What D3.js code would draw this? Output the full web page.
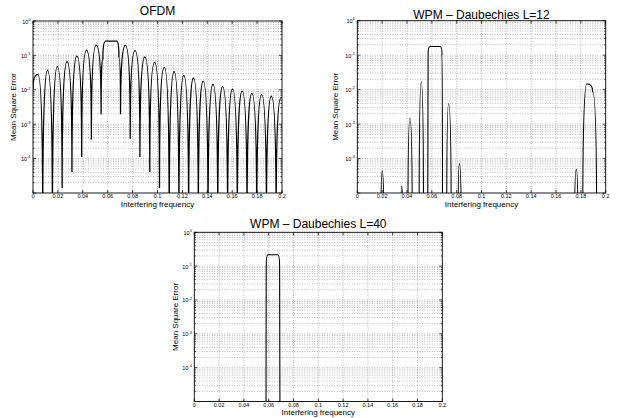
<!DOCTYPE html>
<html>
<head>
<meta charset="utf-8">
<script src="https://d3js.org/d3.v7.min.js"></script>
<style>
  body { margin: 0; background: #fff; }
  text { font-family: "Liberation Sans", Arial, sans-serif; fill: #000; }
  .grid line { stroke: #8c8c8c; stroke-width: 0.6; stroke-dasharray: 1,1.5; }
  .frame { fill: none; stroke: #000; stroke-width: 0.9; }
  .tick { stroke: #000; stroke-width: 0.7; }
  .mse { fill: none; stroke: #000; }
</style>
</head>
<body>
<svg width="627" height="418"></svg>
<script>
// axis ticks
var xTicks = [0, 0.02, 0.04, 0.06, 0.08, 0.1, 0.12, 0.14, 0.16, 0.18, 0.2];
var xTickLabels = ["0", "0.02", "0.04", "0.06", "0.08", "0.1", "0.12", "0.14", "0.16", "0.18", "0.2"];
var yDecades = [0, -1, -2, -3, -4];
var yDomain = [1e-5, 1];

// OFDM: alternating nulls / lobe peaks (1e-6 = below the axis)
var ofdmFreq = [0, 0.0039, 0.0078, 0.0117, 0.0156, 0.0195, 0.0234, 0.0273, 0.0313, 0.0352,
  0.0391, 0.0430, 0.0469, 0.0508, 0.0547, 0.0561, 0.0585, 0.0672, 0.0690, 0.0703,
  0.0742, 0.0781, 0.0820, 0.0859, 0.0898, 0.0938, 0.0977, 0.1016, 0.1055, 0.1094,
  0.1133, 0.1172, 0.1211, 0.1250, 0.1289, 0.1328, 0.1367, 0.1406, 0.1445, 0.1484,
  0.1523, 0.1563, 0.1602, 0.1641, 0.1680, 0.1719, 0.1758, 0.1797, 0.1836, 0.1875,
  0.1914, 0.1953, 0.1993, 0.2];
var ofdmMse = [1.05e-2, 2.8e-2, 1e-6, 3.7e-2, 1e-6, 4.7e-2, 1.4e-5, 6.6e-2, 4.1e-5, 9.5e-2,
  1.12e-4, 1.41e-1, 3.6e-4, 2.0e-1, 1.95e-3, 8e-2, 0.26, 0.26, 9e-2, 1.95e-3,
  1.95e-1, 3.8e-4, 1.38e-1, 1.12e-4, 9.1e-2, 4.1e-5, 6.3e-2, 1.4e-5, 4.5e-2, 1e-6,
  3.4e-2, 1e-6, 2.6e-2, 1e-6, 2.2e-2, 1e-6, 1.78e-2, 1e-6, 1.45e-2, 1e-6,
  1.23e-2, 1e-6, 1.07e-2, 1e-6, 9.1e-3, 1e-6, 7.9e-3, 1e-6, 7.2e-3, 1e-6,
  6.5e-3, 1e-6, 5.9e-3, 5.85e-3];

// WPM, Daubechies L=12
var l12Freq = [0, 0.0190, 0.0201, 0.0213, 0.0350, 0.0358, 0.0366, 0.0408, 0.0424, 0.0442,
  0.0498, 0.0515, 0.0533, 0.0567, 0.0570, 0.0585, 0.0667, 0.0682, 0.0686,
  0.0720, 0.0735, 0.0756, 0.0812, 0.0822, 0.0836, 0.1750, 0.1763, 0.1776,
  0.1815, 0.1848, 0.1895, 0.1927, 0.2];
var l12Mse = [1e-6, 1e-6, 4.4e-5, 1e-6, 1e-6, 1.6e-5, 1e-6, 1e-6, 1.5e-3, 1e-6,
  1e-6, 1.7e-2, 1e-6, 1e-6, 1e-1, 0.178, 0.178, 1e-1, 1e-6,
  1e-6, 3.9e-3, 1e-6, 1e-6, 7.1e-5, 1e-6, 1e-6, 4.9e-5, 1e-6,
  1e-6, 1.48e-2, 8.7e-3, 1e-6, 1e-6];

// WPM, Daubechies L=40
var l40Freq = [0, 0.0578, 0.0580, 0.0594, 0.0673, 0.0688, 0.0691, 0.2];
var l40Mse = [1e-6, 1e-6, 1e-1, 0.218, 0.218, 1e-1, 1e-6, 1e-6];

var panels = [
  {title: "OFDM", freq: ofdmFreq, mse: ofdmMse, left: 33, right: 282, top: 21, bottom: 193,
   titleY: 15, labelX: 16, lw: 1.3},
  {title: "WPM \u2013 Daubechies L=12", freq: l12Freq, mse: l12Mse, left: 357.3, right: 605.7, top: 20.7, bottom: 193,
   titleY: 19.3, labelX: 338, lw: 1.1},
  {title: "WPM \u2013 Daubechies L=40", freq: l40Freq, mse: l40Mse, left: 194.3, right: 442.3, top: 232.3, bottom: 401.5,
   titleY: 228.3, labelX: 178, lw: 1.1}
];

// lobe-shaped segments: vertical at the low end, flat at the high end
function Lobe(context) { this._context = context; }
Lobe.prototype = {
  areaStart: function() {}, areaEnd: function() {},
  lineStart: function() { this._point = 0; },
  lineEnd: function() {},
  point: function(x, y) {
    x = +x; y = +y;
    if (!this._point) { this._point = 1; this._context.moveTo(x, y); }
    else if (y < this._y) this._context.quadraticCurveTo(this._x, y, x, y);
    else this._context.quadraticCurveTo(x, this._y, x, y);
    this._x = x; this._y = y;
  }
};
function curveLobe(context) { return new Lobe(context); }

var svg = d3.select("svg");
var minor = [];
for (var k = -5; k < 0; k++) for (var m = 2; m <= 9; m++) minor.push(m * Math.pow(10, k));
var major = yDecades.map(function(e) { return Math.pow(10, e); }).concat([1e-5]);

panels.forEach(function(p, i) {
  var x = d3.scaleLinear().domain([0, 0.2]).range([p.left, p.right]);
  var y = d3.scaleLog().domain(yDomain).range([p.bottom, p.top]);
  var g = svg.append("g");

  var grid = g.append("g").attr("class", "grid");
  grid.selectAll(".gx").data(xTicks.slice(1, -1)).enter().append("line")
      .attr("x1", x).attr("x2", x).attr("y1", p.top).attr("y2", p.bottom);
  grid.selectAll(".gy").data(major.concat(minor).filter(function(v) { return v > 1e-5 && v < 1; }))
    .enter().append("line")
      .attr("x1", p.left).attr("x2", p.right).attr("y1", y).attr("y2", y);

  g.append("clipPath").attr("id", "clip" + i).append("rect")
      .attr("x", p.left).attr("y", p.top).attr("width", p.right - p.left).attr("height", p.bottom - p.top);

  var line = d3.line()
      .x(function(d) { return x(d[0]); })
      .y(function(d) { return y(d[1]); })
      .curve(curveLobe);

  g.append("path")
      .datum(d3.zip(p.freq, p.mse))
      .attr("class", "mse")
      .attr("clip-path", "url(#clip" + i + ")")
      .attr("stroke-width", p.lw)
      .attr("d", line);

  // ticks, inside on all four sides
  var t = g.append("g");
  xTicks.forEach(function(v) {
    t.append("line").attr("class", "tick").attr("x1", x(v)).attr("x2", x(v)).attr("y1", p.bottom).attr("y2", p.bottom - 3);
    t.append("line").attr("class", "tick").attr("x1", x(v)).attr("x2", x(v)).attr("y1", p.top).attr("y2", p.top + 3);
  });
  major.forEach(function(v) {
    t.append("line").attr("class", "tick").attr("x1", p.left).attr("x2", p.left + 3).attr("y1", y(v)).attr("y2", y(v));
    t.append("line").attr("class", "tick").attr("x1", p.right).attr("x2", p.right - 3).attr("y1", y(v)).attr("y2", y(v));
  });
  minor.forEach(function(v) {
    t.append("line").attr("class", "tick").attr("x1", p.left).attr("x2", p.left + 1.5).attr("y1", y(v)).attr("y2", y(v));
    t.append("line").attr("class", "tick").attr("x1", p.right).attr("x2", p.right - 1.5).attr("y1", y(v)).attr("y2", y(v));
  });

  g.append("rect").attr("class", "frame")
      .attr("x", p.left).attr("y", p.top).attr("width", p.right - p.left).attr("height", p.bottom - p.top);

  // tick labels
  g.selectAll(".xl").data(xTicks).enter().append("text")
      .attr("x", x).attr("y", p.bottom + 5)
      .attr("text-anchor", "middle").attr("font-size", 5.5).attr("fill", "#222")
      .text(function(d, j) { return xTickLabels[j]; });

  yDecades.forEach(function(e) {
    var tx = g.append("text")
        .attr("x", p.left - 2.5).attr("y", y(Math.pow(10, e)) + 2.5)
        .attr("text-anchor", "end").attr("font-size", 5.5).attr("fill", "#222");
    tx.append("tspan").text("10");
    tx.append("tspan").attr("dy", -2.8).attr("font-size", 3.8).text(e === 0 ? "0" : String(e));
  });

  g.append("text")
      .attr("x", (p.left + p.right) / 2).attr("y", p.bottom + 13.5)
      .attr("text-anchor", "middle").attr("font-size", 8)
      .text("Interfering frequency");

  g.append("text")
      .attr("transform", "translate(" + p.labelX + "," + ((p.top + p.bottom) / 2) + ") rotate(-90)")
      .attr("text-anchor", "middle").attr("font-size", 8)
      .text("Mean Square Error");

  g.append("text")
      .attr("x", (p.left + p.right) / 2).attr("y", p.titleY)
      .attr("text-anchor", "middle").attr("font-size", 12)
      .text(p.title);
});
</script>
</body>
</html>
